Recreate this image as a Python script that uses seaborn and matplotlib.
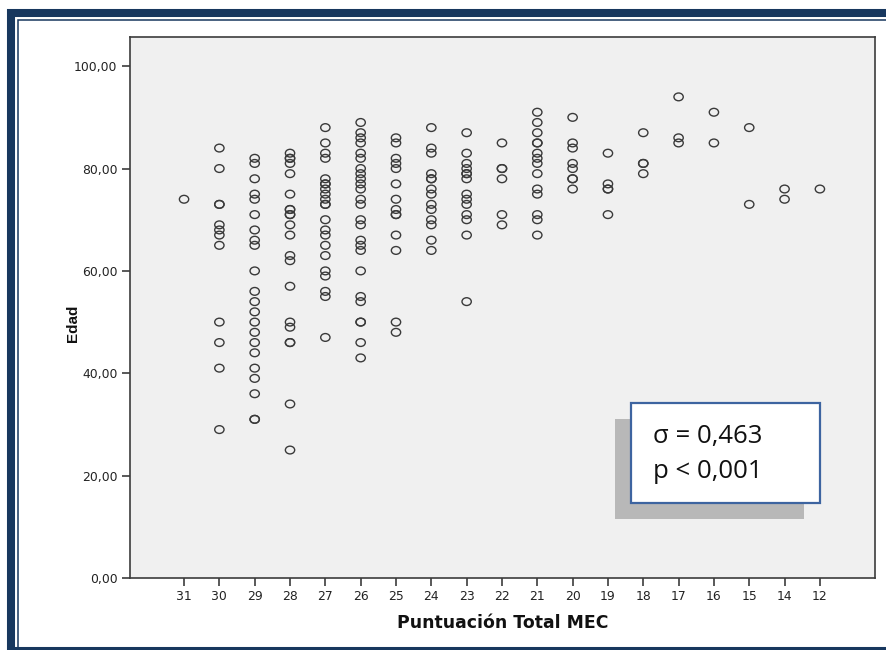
import matplotlib
matplotlib.use("Agg")
import matplotlib.pyplot as plt
from matplotlib.patches import Rectangle
from matplotlib.path import Path
from matplotlib.transforms import Affine2D
import pandas as pd
import seaborn as sns

# Puntuación total MEC (categorías en el orden del eje)
puntuacion = ["31", "30", "29", "28", "27", "26", "25", "24", "23", "22",
              "21", "20", "19", "18", "17", "16", "15", "14", "12"]

# Edad de cada paciente, agrupada por puntuación
edad_31 = [74]
edad_30 = [84, 80, 73, 73, 69, 68, 67, 65, 50, 46, 41, 29]
edad_29 = [82, 81, 78, 75, 74, 71, 68, 66, 65, 60, 56, 54, 52, 50, 48, 46,
           44, 41, 39, 36, 31, 31]
edad_28 = [83, 82, 82, 81, 79, 75, 72, 72, 71, 71, 69, 67, 63, 62, 57, 50,
           49, 46, 46, 34, 25]
edad_27 = [88, 85, 83, 82, 78, 77, 77, 76, 75, 74, 73, 73, 70, 68, 67, 65,
           63, 60, 59, 56, 55, 47]
edad_26 = [89, 87, 86, 85, 83, 82, 80, 79, 78, 77, 76, 74, 73, 70, 69, 66,
           65, 64, 60, 55, 54, 50, 50, 46, 43]
edad_25 = [86, 85, 82, 81, 80, 77, 74, 72, 71, 71, 67, 64, 50, 48]
edad_24 = [88, 84, 83, 79, 78, 78, 76, 75, 73, 72, 70, 69, 66, 64]
edad_23 = [87, 83, 81, 80, 79, 79, 78, 75, 74, 73, 71, 70, 67, 54]
edad_22 = [85, 80, 80, 78, 71, 69]
edad_21 = [91, 89, 87, 85, 85, 83, 82, 81, 79, 76, 75, 71, 70, 67]
edad_20 = [90, 85, 84, 81, 80, 78, 78, 76]
edad_19 = [83, 77, 76, 76, 71]
edad_18 = [87, 81, 81, 79]
edad_17 = [94, 86, 85]
edad_16 = [91, 85]
edad_15 = [88, 73]
edad_14 = [76, 74]
edad_12 = [76]

edades = [edad_31, edad_30, edad_29, edad_28, edad_27, edad_26, edad_25,
          edad_24, edad_23, edad_22, edad_21, edad_20, edad_19, edad_18,
          edad_17, edad_16, edad_15, edad_14, edad_12]

y_ticks = [0, 20, 40, 60, 80, 100]
y_ticklabels = ["0,00", "20,00", "40,00", "60,00", "80,00", "100,00"]

rho_text = "σ = 0,463"
p_text = "p < 0,001"

rows = [(p, e) for p, grupo in zip(puntuacion, edades) for e in grupo]
df = pd.DataFrame(rows, columns=["MEC", "Edad"])

sns.set_style("white")
plt.rcParams["font.family"] = ["DejaVu Sans"]

W, H = 887, 650
fig = plt.figure(figsize=(W / 100, H / 100), dpi=100)
fig.patch.set_facecolor("white")


def fx(px):
    return px / W


def fy(py):
    return 1 - py / H


def fig_rect(x0, y0, x1, y1, **kw):
    r = Rectangle((fx(x0), fy(y1)), (x1 - x0) / W, (y1 - y0) / H,
                  transform=fig.transFigure, **kw)
    fig.add_artist(r)
    return r


# Marco azul marino del documento
navy = "#17375e"
fig_rect(11, 12.5, 905, 651, fill=False, edgecolor=navy, linewidth=5.8)
fig_rect(18, 20, 900, 665, fill=False, edgecolor=navy, linewidth=1.1)

ax = fig.add_axes([fx(130), fy(578), (875 - 130) / W, (578 - 37) / H])
ax.set_facecolor("#f0f0f0")

# Círculo algo ensanchado en horizontal, como en el gráfico exportado
ring = Path.unit_circle().transformed(Affine2D().scale(1.2, 1.0))

sns.stripplot(data=df, x="MEC", y="Edad", order=puntuacion, jitter=False,
              size=6.7, marker=ring, color="#333333", linewidth=1.0,
              edgecolor="#333333", ax=ax, zorder=3)
for coll in ax.collections:
    coll.set_facecolor("none")
    coll.set_edgecolor("#3a3a3a")
    coll.set_linewidth(1.0)

ax.set_xlim(-1.53, 19.56)
ax.set_ylim(0, 105.7)
ax.set_yticks(y_ticks)
ax.set_yticklabels(y_ticklabels)

for s in ax.spines.values():
    s.set_visible(True)
    s.set_color("#3c3c3c")
    s.set_linewidth(1.2)

ax.tick_params(axis="both", direction="out", length=6, width=1.2,
               color="#3c3c3c", labelsize=8.9, labelcolor="#222222", pad=3,
               left=True, bottom=True)

ax.set_xlabel("Puntuación Total MEC", fontsize=12.4, fontweight="bold",
              color="#111111")
ax.set_ylabel("Edad", fontsize=11, fontweight="bold", color="#111111",
              family=["Liberation Sans", "DejaVu Sans"])
ax.xaxis.set_label_coords(0.5, -0.066)
ax.yaxis.set_label_coords(-0.067, 0.47)

# Cuadro con el coeficiente de correlación y su sombra
fig_rect(615, 419, 804, 519, facecolor="#b8b8b8", edgecolor="none")
fig_rect(631, 403, 820, 503, facecolor="white", edgecolor="#3d64a0",
         linewidth=1.6)
fig.text(fx(653), fy(436), rho_text, fontsize=18.5, va="center", ha="left",
         family=["Open Sans", "DejaVu Sans"], color="#111111")
fig.text(fx(653), fy(472), p_text, fontsize=18.5, va="center", ha="left",
         family=["Open Sans", "DejaVu Sans"], color="#111111")

fig.savefig("out.png", dpi=100, facecolor="white")
